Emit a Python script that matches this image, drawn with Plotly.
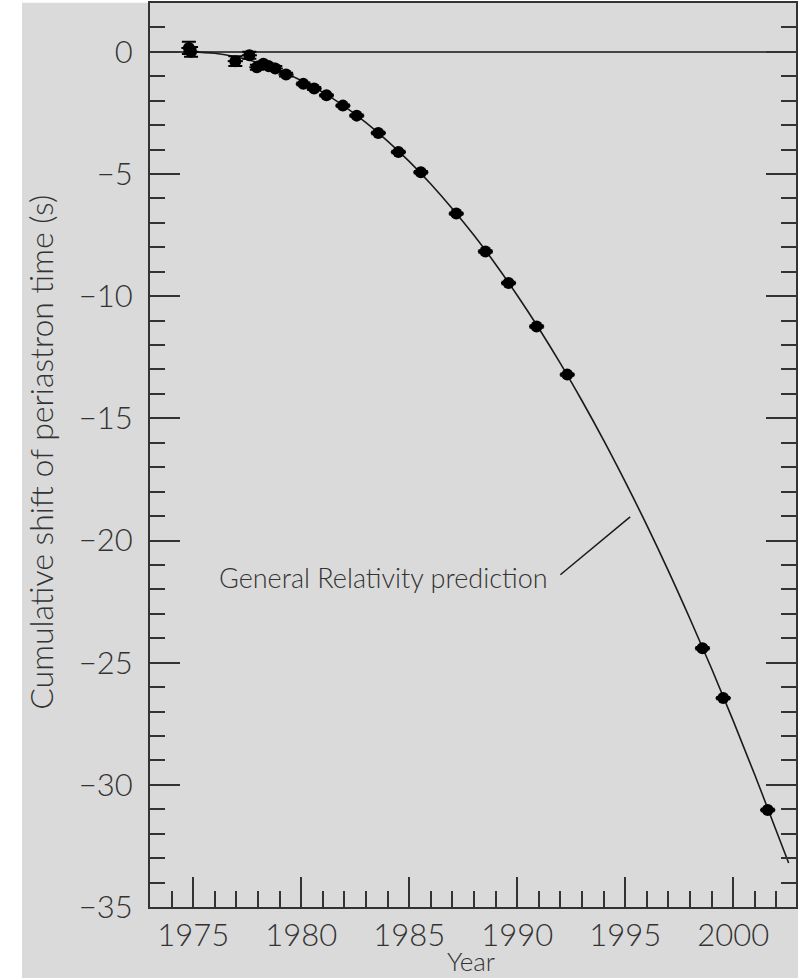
import plotly.graph_objects as go

# Measured periastron-time shifts (year, cumulative shift in s, vertical error in s)
obs_year = [1974.80, 1974.90, 1976.95, 1977.60, 1977.95, 1978.25, 1978.50, 1978.80,
            1979.30, 1980.10, 1980.60, 1981.17, 1981.93, 1982.57, 1983.57, 1984.50,
            1985.54, 1987.18, 1988.53, 1989.60, 1990.90, 1992.32, 1998.58, 1999.54,
            2001.60]
obs_shift = [0.16, 0.00, -0.38, -0.14, -0.63, -0.49, -0.59, -0.68,
             -0.93, -1.31, -1.50, -1.78, -2.20, -2.61, -3.32, -4.10,
             -4.93, -6.62, -8.17, -9.46, -11.24, -13.21, -24.41, -26.45,
             -31.03]
obs_err = [0.25, 0.20, 0.20, 0.14, 0.10, 0.10, 0.10, 0.10,
           0.08, 0.06, 0.06, 0.05, 0.05, 0.05, 0.05, 0.05,
           0.05, 0.05, 0.05, 0.05, 0.05, 0.05, 0.05, 0.05,
           0.05]
obs_year_err = [0.35] * len(obs_year)

# General Relativity prediction curve
gr_year = [1974.9, 1976, 1977, 1978, 1979, 1980, 1981, 1982, 1983, 1984, 1985,
           1986, 1987, 1988, 1989, 1990, 1991, 1992, 1993, 1994, 1995, 1996,
           1997, 1998, 1999, 2000, 2001, 2002, 2002.57]
gr_shift = [0.00, -0.06, -0.21, -0.44, -0.76, -1.17, -1.66, -2.23, -2.90, -3.65, -4.48,
            -5.41, -6.42, -7.51, -8.69, -9.96, -11.31, -12.75, -14.28, -15.89, -17.59, -19.37,
            -21.24, -23.20, -25.24, -27.37, -29.59, -31.89, -33.20]

# Axis ticks
x_tickvals = [1975, 1980, 1985, 1990, 1995, 2000]
x_ticktext = ["1975", "1980", "1985", "1990", "1995", "2000"]
y_tickvals = [0, -5, -10, -15, -20, -25, -30, -35]
y_ticktext = ["0", "\u22125", "\u221210", "\u221215", "\u221220", "\u221225", "\u221230", "\u221235"]

BG = "#dadada"
INK = "#333333"
FONT = "Lato"

# pixel geometry of the plotting area inside the 798x978 page
L, R, T, B = 149.5, 798.0, 3.3, 907.0
W, H = R - L, B - T


def px(xp):
    return (xp - L) / W


def py(yp):
    return (B - yp) / H


fig = go.Figure()

fig.add_trace(go.Scatter(
    x=gr_year, y=gr_shift, mode="lines", line=dict(color="#1a1a1a", width=1.6, shape="spline"),
    hoverinfo="skip", showlegend=False,
))

fig.add_trace(go.Scatter(
    x=obs_year, y=obs_shift, mode="markers",
    marker=dict(color="black", size=12, symbol="circle"),
    error_y=dict(type="data", array=obs_err, color="black", thickness=2, width=7),
    error_x=dict(type="data", array=obs_year_err, color="black", thickness=2, width=0),
    showlegend=False,
))

tick_font = dict(family=FONT, size=31, color=INK, weight=300)

fig.update_xaxes(
    range=[1973, 2002.91], showgrid=False, zeroline=False,
    showline=True, linecolor=INK, linewidth=2, mirror=True,
    ticks="inside", ticklen=30, tickwidth=2, tickcolor=INK,
    tickvals=x_tickvals, ticktext=x_ticktext, tickfont=tick_font,
    ticklabelstandoff=0,
    minor=dict(ticks="inside", dtick=1, tick0=1975, ticklen=16, tickwidth=2, tickcolor=INK),
)
fig.update_yaxes(
    range=[-35, 2], showgrid=False,
    zeroline=True, zerolinecolor="#444444", zerolinewidth=2,
    showline=True, linecolor=INK, linewidth=2, mirror="ticks",
    ticks="inside", ticklen=30, tickwidth=2, tickcolor=INK,
    tickvals=y_tickvals, ticktext=y_ticktext, tickfont=tick_font,
    ticklabelstandoff=9,
    minor=dict(ticks="inside", dtick=1, tick0=0, ticklen=15, tickwidth=2, tickcolor=INK),
)

# white strips along the left and top page edges
fig.add_shape(type="rect", xref="paper", yref="paper", x0=px(-5), x1=px(21), y0=py(1000), y1=py(-5),
              fillcolor="white", line=dict(width=0), layer="below")
fig.add_shape(type="rect", xref="paper", yref="paper", x0=px(-5), x1=px(805), y0=py(3), y1=py(-5),
              fillcolor="white", line=dict(width=0), layer="below")

# leader line from the label to the prediction curve
fig.add_shape(type="line", xref="x", yref="y", x0=1992.0, y0=-21.4, x1=1995.23, y1=-19.03,
              line=dict(color="#1a1a1a", width=1.5))

fig.add_annotation(
    x=1976.1, y=-21.5, xref="x", yref="y", xanchor="left", yanchor="middle",
    text="General Relativity prediction", showarrow=False,
    font=dict(family=FONT, size=27, color=INK, weight=300),
)
fig.add_annotation(
    x=px(472), y=py(978), xref="paper", yref="paper", xanchor="center", yanchor="bottom",
    text="Year", showarrow=False, borderpad=0,
    font=dict(family=FONT, size=26, color=INK, weight=300),
)
fig.add_annotation(
    x=px(40), y=py(452), xref="paper", yref="paper", xanchor="center", yanchor="middle",
    text="Cumulative shift of periastron time (s)", showarrow=False, textangle=-90,
    font=dict(family=FONT, size=32, color=INK, weight=300),
)

fig.update_layout(
    width=798, height=978,
    margin=dict(l=L, r=0, t=T, b=978 - B, pad=0),
    paper_bgcolor=BG, plot_bgcolor=BG,
    showlegend=False,
)

fig.write_html("out.html")
